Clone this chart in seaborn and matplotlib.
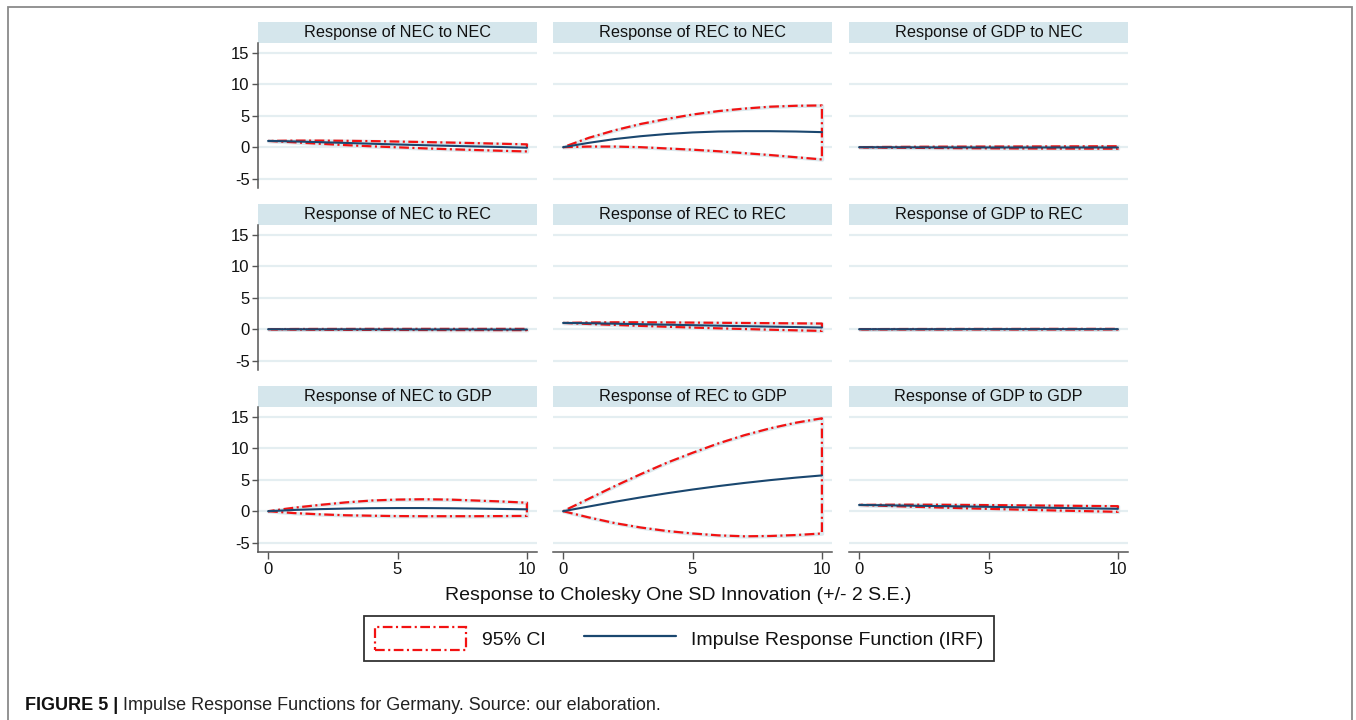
import matplotlib
matplotlib.use('Agg')
import matplotlib.pyplot as plt
import matplotlib.patches as mpatches
from matplotlib.lines import Line2D
import pandas as pd
import seaborn as sns

# Impulse response data, horizon 0..10
steps = list(range(11))
responses = ['NEC', 'REC', 'GDP']
impulses = ['NEC', 'REC', 'GDP']

# impulse NEC
irf_nec_nec = [1.0, 0.92, 0.8, 0.68, 0.55, 0.43, 0.32, 0.22, 0.12, 0.03, -0.08]
up_nec_nec = [1.0, 1.05, 1.05, 1.02, 0.97, 0.9, 0.82, 0.74, 0.65, 0.55, 0.45]
lo_nec_nec = [1.0, 0.78, 0.55, 0.33, 0.14, -0.02, -0.18, -0.32, -0.45, -0.57, -0.68]

irf_rec_nec = [0, 0.7, 1.3, 1.75, 2.1, 2.35, 2.5, 2.55, 2.55, 2.5, 2.4]
up_rec_nec = [0, 1.5, 2.7, 3.7, 4.5, 5.2, 5.75, 6.15, 6.45, 6.6, 6.65]
lo_rec_nec = [0, 0.1, 0.1, 0.0, -0.2, -0.4, -0.65, -0.95, -1.25, -1.6, -1.95]

irf_gdp_nec = [0, -0.01, -0.02, -0.03, -0.03, -0.04, -0.04, -0.04, -0.04, -0.04, -0.04]
up_gdp_nec = [0, 0.04, 0.06, 0.08, 0.09, 0.1, 0.11, 0.12, 0.13, 0.14, 0.15]
lo_gdp_nec = [0, -0.07, -0.1, -0.13, -0.16, -0.18, -0.2, -0.21, -0.22, -0.23, -0.24]

# impulse REC
irf_nec_rec = [0, -0.01, -0.02, -0.02, -0.03, -0.03, -0.04, -0.04, -0.04, -0.05, -0.05]
up_nec_rec = [0, 0.03, 0.04, 0.04, 0.05, 0.05, 0.05, 0.05, 0.05, 0.05, 0.05]
lo_nec_rec = [0, -0.05, -0.08, -0.1, -0.11, -0.12, -0.13, -0.14, -0.14, -0.15, -0.15]

irf_rec_rec = [1.0, 0.95, 0.88, 0.8, 0.72, 0.64, 0.56, 0.48, 0.41, 0.34, 0.27]
up_rec_rec = [1.0, 1.07, 1.1, 1.1, 1.08, 1.05, 1.02, 0.99, 0.96, 0.93, 0.9]
lo_rec_rec = [1.0, 0.83, 0.68, 0.53, 0.39, 0.26, 0.14, 0.03, -0.08, -0.18, -0.27]

irf_gdp_rec = [0, 0.0, 0.0, 0.0, 0.01, 0.01, 0.01, 0.01, 0.01, 0.01, 0.01]
up_gdp_rec = [0, 0.02, 0.03, 0.03, 0.04, 0.04, 0.04, 0.05, 0.05, 0.05, 0.05]
lo_gdp_rec = [0, -0.02, -0.03, -0.03, -0.03, -0.03, -0.04, -0.04, -0.04, -0.04, -0.04]

# impulse GDP
irf_nec_gdp = [0, 0.2, 0.33, 0.42, 0.48, 0.5, 0.5, 0.47, 0.42, 0.36, 0.3]
up_nec_gdp = [0, 0.55, 1.0, 1.4, 1.7, 1.85, 1.9, 1.85, 1.7, 1.55, 1.35]
lo_nec_gdp = [0, -0.3, -0.5, -0.65, -0.72, -0.78, -0.8, -0.8, -0.8, -0.78, -0.75]

irf_rec_gdp = [0, 0.75, 1.5, 2.2, 2.85, 3.45, 4.0, 4.5, 4.95, 5.35, 5.7]
up_rec_gdp = [0, 2.0, 4.0, 5.9, 7.7, 9.3, 10.8, 12.1, 13.2, 14.1, 14.8]
lo_rec_gdp = [0, -1.0, -1.9, -2.6, -3.15, -3.55, -3.85, -4.0, -3.95, -3.8, -3.55]

irf_gdp_gdp = [1.0, 0.94, 0.88, 0.82, 0.76, 0.7, 0.63, 0.57, 0.5, 0.44, 0.38]
up_gdp_gdp = [1.0, 1.03, 1.04, 1.03, 1.0, 0.97, 0.94, 0.9, 0.87, 0.83, 0.8]
lo_gdp_gdp = [1.0, 0.85, 0.72, 0.6, 0.48, 0.37, 0.27, 0.17, 0.08, -0.01, -0.1]

panels = [
  [(irf_nec_nec, up_nec_nec, lo_nec_nec), (irf_rec_nec, up_rec_nec, lo_rec_nec), (irf_gdp_nec, up_gdp_nec, lo_gdp_nec)],
  [(irf_nec_rec, up_nec_rec, lo_nec_rec), (irf_rec_rec, up_rec_rec, lo_rec_rec), (irf_gdp_rec, up_gdp_rec, lo_gdp_rec)],
  [(irf_nec_gdp, up_nec_gdp, lo_nec_gdp), (irf_rec_gdp, up_rec_gdp, lo_rec_gdp), (irf_gdp_gdp, up_gdp_gdp, lo_gdp_gdp)],
]

y_ticks = [-5, 0, 5, 10, 15]
x_ticks = [0, 5, 10]

# Style
sns.set_theme(style='white')
plt.rcParams['font.family'] = ['Liberation Sans', 'DejaVu Sans']
plt.rcParams['lines.scale_dashes'] = False
plt.rcParams['axes.unicode_minus'] = False

RED = '#f21212'
NAVY = '#1a476f'
STRIP = '#d5e6ec'
GRID = '#e4eef1'
EDGE_BG = '#dce9ee'
DASHDOT = (0, (7, 2.5, 1.5, 2.5))

W, H = 1356, 720
fig = plt.figure(figsize=(W / 100, H / 100), dpi=100)

col_left = [258, 553, 849]
row_top = [43, 225, 407]
ax_w, ax_h, strip_h = 279, 145, 21

for r in range(3):
  for c in range(3):
    irf, up, lo = panels[r][c]
    ax = fig.add_axes([col_left[c] / W, 1 - (row_top[r] + ax_h) / H, ax_w / W, ax_h / H])
    df_p = pd.DataFrame({'step': steps, 'irf': irf, 'upper': up, 'lower': lo})

    for yt in y_ticks:
      ax.axhline(yt, color=GRID, lw=1.6, zorder=0)

    # confidence band: white fill, pale outline, red dash-dot outline
    ax.fill_between(df_p['step'], df_p['lower'], df_p['upper'], facecolor='white',
                    edgecolor=EDGE_BG, lw=2.6, zorder=1)
    ax.fill_between(df_p['step'], df_p['lower'], df_p['upper'], facecolor='none',
                    edgecolor=RED, lw=1.6, linestyle=DASHDOT, zorder=2)
    sns.lineplot(data=df_p, x='step', y='irf', color=NAVY, lw=1.5, ax=ax, zorder=3)

    ax.set_xlim(-0.39, 10.39)
    ax.set_ylim(-6.5, 16.6)
    ax.set_xlabel('')
    ax.set_ylabel('')
    for s in ['top', 'right', 'left', 'bottom']:
      ax.spines[s].set_visible(False)

    if c == 0:
      ax.spines['left'].set_visible(True)
      ax.spines['left'].set_color('#555555')
      ax.spines['left'].set_linewidth(1.1)
      ax.set_yticks(y_ticks)
      ax.tick_params(axis='y', left=True, length=4, width=1, color='#555555',
                     labelsize=12, labelcolor='#111111', pad=2)
    else:
      ax.set_yticks([])
    if r == 2:
      ax.spines['bottom'].set_visible(True)
      ax.spines['bottom'].set_color('#555555')
      ax.spines['bottom'].set_linewidth(1.1)
      ax.set_xticks(x_ticks)
      ax.tick_params(axis='x', bottom=True, length=5, width=1, color='#555555',
                     labelsize=12, labelcolor='#111111', pad=2)
    else:
      ax.set_xticks([])

    # strip title
    ax.add_patch(mpatches.Rectangle((0, 1), 1, strip_h / ax_h, transform=ax.transAxes,
                                    facecolor=STRIP, edgecolor='none', clip_on=False))
    ax.text(0.5, 1 + strip_h / ax_h / 2, 'Response of %s to %s' % (responses[c], impulses[r]),
            transform=ax.transAxes, ha='center', va='center', fontsize=11.7, color='#111111')

# common x label
fig.text(0.5, 1 - 596 / H, 'Response to Cholesky One SD Innovation (+/- 2 S.E.)',
         ha='center', va='center', fontsize=14, color='#111111')

# legend
ci_handle = mpatches.Patch(facecolor='white', edgecolor=RED, lw=1.6, linestyle=DASHDOT)
irf_handle = Line2D([0], [0], color=NAVY, lw=1.6)
leg = fig.legend([ci_handle, irf_handle], ['95% CI', 'Impulse Response Function (IRF)'],
                 loc='center', bbox_to_anchor=(679 / W, 1 - 638.5 / H), ncol=2,
                 fontsize=14, frameon=True, fancybox=False, handlelength=4.7,
                 handleheight=1.5, handletextpad=0.8, columnspacing=2.0,
                 borderpad=0.55, borderaxespad=0)
leg.get_frame().set_edgecolor('black')
leg.get_frame().set_linewidth(1.3)
for t in leg.get_texts():
  t.set_color('#111111')

# outer frame
fig.add_artist(mpatches.Rectangle((8 / W, -0.1), (1352 - 8) / W, 1.1 - 7 / H,
                                  transform=fig.transFigure, fill=False,
                                  edgecolor='#8a8a8a', lw=1.3))

# caption
renderer = fig.canvas.get_renderer()
cap1 = fig.text(25 / W, 1 - 705 / H, 'FIGURE 5 |', ha='left', va='center',
                fontsize=13, fontweight='bold', color='#111111')
bb = cap1.get_window_extent(renderer=renderer)
fig.text((bb.x1 + 5) / W, 1 - 705 / H, 'Impulse Response Functions for Germany. Source: our elaboration.',
         ha='left', va='center', fontsize=13, color='#222222')

fig.savefig('out.png', dpi=100)
